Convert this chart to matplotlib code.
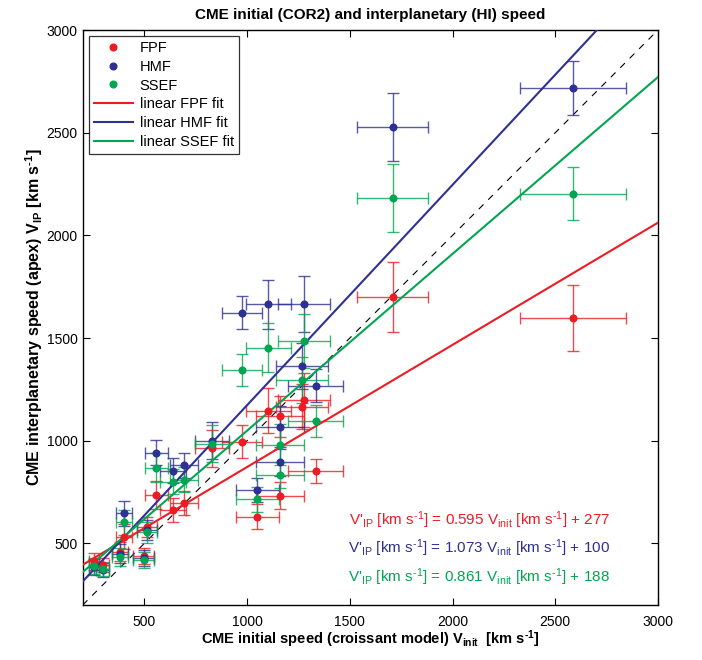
import matplotlib
matplotlib.use("Agg")
import matplotlib.pyplot as plt
import numpy as np

plt.rcParams['font.family'] = ['Liberation Sans', 'DejaVu Sans']
plt.rcParams['mathtext.fontset'] = 'custom'
plt.rcParams['mathtext.rm'] = 'Liberation Sans'
plt.rcParams['mathtext.it'] = 'Liberation Sans'
plt.rcParams['mathtext.bf'] = 'Liberation Sans:bold'

# initial speed (croissant model) for each CME
v_init = [254, 297, 383, 402, 497, 513, 557, 638, 694, 828, 975,
          1050, 1103, 1160, 1160, 1266, 1278, 1335, 1708, 2587]
v_init_err = [25, 30, 38, 40, 50, 51, 56, 64, 69, 83, 98,
              105, 110, 116, 116, 127, 128, 134, 171, 259]

v_fpf = [412, 395, 460, 533, 440, 580, 736, 663, 696, 963, 996,
         630, 1147, 1120, 733, 1166, 1199, 853, 1699, 1596]
v_hmf = [385, 370, 450, 647, 430, 565, 942, 855, 880, 1001, 1624,
         760, 1665, 1069, 895, 1364, 1665, 1267, 2528, 2716]
v_ssef = [390, 374, 433, 603, 420, 554, 869, 800, 810, 985, 1345,
          715, 1453, 980, 833, 1296, 1486, 1096, 2181, 2203]
err_fpf = [40, 35, 45, 60, 40, 50, 70, 60, 60, 90, 80,
           60, 110, 100, 65, 110, 130, 60, 170, 160]
err_hmf = [40, 35, 45, 60, 40, 50, 60, 60, 60, 90, 82,
           60, 120, 100, 65, 110, 136, 80, 164, 131]
err_ssef = [40, 35, 45, 60, 40, 50, 70, 60, 60, 90, 79,
            60, 120, 100, 65, 110, 130, 80, 165, 128]

fit_slope = [0.595, 1.073, 0.861]
fit_offset = [277, 100, 188]
methods = ['FPF', 'HMF', 'SSEF']
colors = ['#ED1C24', '#2E3192', '#00A651']

HY = '\u2010'  # short hyphen used in the exponent

fig = plt.figure(figsize=(7.02, 6.60), dpi=100)
ax = fig.add_axes([0.1178, 0.0833, 0.8195, 0.8712])

xlim = (200, 3000)
ylim = (200, 3000)
ax.plot(xlim, ylim, ls=(0, (6, 6)), color='black', lw=0.8, zorder=1)

series = [(v_fpf, err_fpf), (v_hmf, err_hmf), (v_ssef, err_ssef)]
for (vals, errs), c in zip(series, colors):
    ax.errorbar(v_init, vals, xerr=v_init_err, yerr=errs, fmt='none',
                ecolor=c, elinewidth=1.0, capsize=4, capthick=1.0,
                alpha=0.8, zorder=2)

handles = []
for (vals, errs), c, m in zip(series, colors, methods):
    h, = ax.plot(v_init, vals, 'o', color=c, ms=4.8, mec=c, ls='none',
                 label=m, zorder=4)
    handles.append(h)

xfit = np.array(xlim, dtype=float)
for s, o, c, m in zip(fit_slope, fit_offset, colors, methods):
    h, = ax.plot(xfit, s * xfit + o, '-', color=c, lw=1.5,
                 label='linear %s fit' % m, zorder=3)
    handles.append(h)

ax.set_xlim(*xlim)
ax.set_ylim(*ylim)
ax.set_xticks([500, 1000, 1500, 2000, 2500, 3000])
ax.set_yticks([500, 1000, 1500, 2000, 2500, 3000])
ax.tick_params(direction='in', top=True, right=True, labelsize=10,
               length=5, width=0.8)
ax.tick_params(axis='x', pad=7)
for sp in ax.spines.values():
    sp.set_linewidth(1.0)

leg = ax.legend(handles=handles, loc='upper left', fontsize=10.5,
                frameon=True, fancybox=False, edgecolor='black',
                borderpad=0.35, handlelength=2.7, labelspacing=0.33,
                borderaxespad=0.4, handletextpad=0.45)
leg.get_frame().set_linewidth(0.9)

unit = r"[km s$^{\rm " + HY + r"1}$]"
for i, (s, o, c) in enumerate(zip(fit_slope, fit_offset, colors)):
    txt = (r"V'$_{\rm IP}$ " + unit + " = %.3f " % s + r"V$_{\rm init}$ "
           + unit + " + %d" % o)
    ax.text(0.917, 0.148 - i * 0.05, txt, color=c, fontsize=11,
            ha='right', va='center', transform=ax.transAxes)

unit_b = r"[km s$^{\mathbf{" + HY + r"1}}$]"
ax.set_title('CME initial (COR2) and interplanetary (HI) speed',
             fontsize=11, fontweight='bold', pad=8)
ax.set_xlabel(r'CME initial speed (croissant model) V$_{\mathbf{init}}$  '
              + unit_b, fontsize=10.5, fontweight='bold', labelpad=0)
ax.set_ylabel(r'CME interplanetary speed (apex) V$_{\mathbf{IP}}$ '
              + unit_b, fontsize=11.5, fontweight='bold', labelpad=1)

fig.savefig('out.png', dpi=100)
